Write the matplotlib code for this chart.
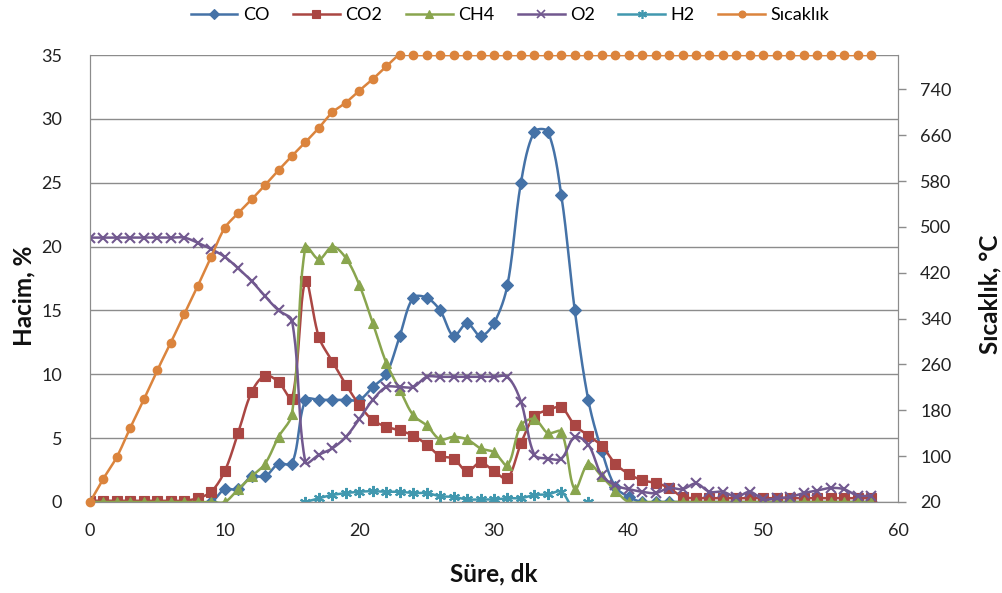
import numpy as np
import matplotlib
matplotlib.use("Agg")
import matplotlib.pyplot as plt
from matplotlib.lines import Line2D

plt.rcParams['font.family'] = ['Lato', 'DejaVu Sans']

# ---------------- data ----------------
time_min = list(range(0, 59))

co = [0]*10 + [1, 1, 2, 2, 3, 3, 8, 8, 8, 8, 8, 9, 10, 13, 16, 16, 15, 13, 14, 13,
               14, 17, 25, 29, 29, 24, 15, 8, 4, 1.2, 0.4] + [0]*18

co2 = [0.1]*8 + [0.3, 0.8, 2.4, 5.4, 8.6, 9.9, 9.4, 8.1, 17.3, 12.9, 11.0, 9.2, 7.6,
                 6.4, 5.9, 5.6, 5.2, 4.5, 3.6, 3.4, 2.4, 3.1, 2.4, 1.85, 4.6, 6.7,
                 7.2, 7.4, 6.0, 5.2, 4.4, 3.0, 2.2, 1.7, 1.5, 1.1, 0.4] + [0.3]*14

ch4 = [0]*11 + [1, 2, 3, 5.1, 6.9, 20, 19, 20, 19.1, 17, 14, 10.9, 8.8, 6.8, 6.0,
                4.9, 5.1, 4.9, 4.2, 3.9, 2.9, 6.0, 6.5, 5.4, 5.5, 1.0, 3.0, 2.0,
                0.9] + [0]*19

o2 = [20.7]*8 + [20.3, 19.8, 19.2, 18.3, 17.3, 16.1, 15.0, 14.2, 3.1, 3.7, 4.2, 5.1,
                 6.5, 8.0, 9.0, 9.0, 9.0] + [9.8]*7 + \
     [7.85, 3.7, 3.4, 3.4, 5.1, 4.5, 2.1, 1.3, 1.0, 0.8, 0.7, 1.1, 1.0, 1.45, 0.8,
      0.8, 0.4, 0.8, 0.2, 0.3, 0.4, 0.7, 0.9, 1.1, 1.0, 0.5, 0.5]

h2 = [np.nan]*16 + [0, 0.3, 0.55, 0.7, 0.8, 0.85, 0.8, 0.8, 0.7, 0.7, 0.45, 0.4,
                    0.2, 0.2, 0.2, 0.3, 0.3, 0.55, 0.6, 0.8, -0.6, 0.0] + [np.nan]*21

sicaklik = [20, 61, 99, 150, 199, 250, 298, 348, 397, 448, 498, 524, 548, 573, 599,
            624, 648, 673, 700, 717, 738, 758, 780, 800] + [800]*35

series_names = ["CO", "CO2", "CH4", "O2", "H2", "Sıcaklık"]
colors = ["#4572A7", "#AA4643", "#89A54E", "#71588F", "#4198AF", "#DB843D"]

left_ticks = [0, 5, 10, 15, 20, 25, 30, 35]
right_ticks = [20, 100, 180, 260, 340, 420, 500, 580, 660, 740]
x_ticks = [0, 10, 20, 30, 40, 50, 60]


# ------------- smoothing (Excel-like bezier, chord-scaled tangents) -------------
def smooth(x, y, sx, sy, n=24):
    x = np.asarray(x, float)
    y = np.asarray(y, float)
    ok = ~np.isnan(y)
    outx, outy = [], []
    idx = np.where(ok)[0]
    if len(idx) == 0:
        return np.array([]), np.array([])
    runs = np.split(idx, np.where(np.diff(idx) != 1)[0] + 1)
    tt = np.linspace(0, 1, n)
    for r in runs:
        P = np.column_stack([x[r] * sx, y[r] * sy])
        m = len(P)
        if m == 1:
            outx += [x[r][0], np.nan]; outy += [y[r][0], np.nan]
            continue
        cin = P.copy()
        cout = P.copy()
        for i in range(m):
            pp = P[i - 1] if i > 0 else P[i]
            pn = P[i + 1] if i + 1 < m else P[i]
            d = pn - pp
            lp = np.hypot(*(P[i] - pp))
            ln = np.hypot(*(pn - P[i]))
            tot = lp + ln
            if tot == 0:
                continue
            cout[i] = P[i] + d * (1 / 3.0) * ln / tot
            cin[i] = P[i] - d * (1 / 3.0) * lp / tot
        for i in range(m - 1):
            p1, b1, b2, p2 = P[i], cout[i], cin[i + 1], P[i + 1]
            seg = ((1 - tt)[:, None] ** 3 * p1 + 3 * ((1 - tt) ** 2 * tt)[:, None] * b1
                   + 3 * ((1 - tt) * tt ** 2)[:, None] * b2 + (tt ** 3)[:, None] * p2)
            if i > 0:
                seg = seg[1:]
            outx += list(seg[:, 0] / sx)
            outy += list(seg[:, 1] / sy)
        outx.append(np.nan); outy.append(np.nan)
    return np.array(outx), np.array(outy)


# ---------------- figure ----------------
W, H = 1003, 593
fig = plt.figure(figsize=(W / 100, H / 100), dpi=100)
ax = fig.add_axes([90 / W, 1 - 502 / H, (898 - 90) / W, (502 - 55) / H])
ax2 = ax.twinx()

ax.set_xlim(0, 60)
ax.set_ylim(0, 35)
ax2.set_ylim(20, 800)

sx = (898 - 90) / 60.0
sy_left = (502 - 55) / 35.0
sy_right = (502 - 55) / 780.0

grid_c = "#8C8C8C"
ax.set_yticks(left_ticks)
ax.set_xticks(x_ticks)
ax.yaxis.grid(True, color=grid_c, linewidth=1.0)
ax.set_axisbelow(True)
ax.spines["top"].set_visible(False)
ax2.spines["top"].set_visible(False)
for s in ["left", "bottom", "right"]:
    ax.spines[s].set_color(grid_c)
    ax2.spines[s].set_color(grid_c)
ax.tick_params(axis="both", length=0, labelsize=13, colors="#222222")
ax.tick_params(axis="y", pad=20)
ax.tick_params(axis="x", pad=15)
ax2.set_yticks(right_ticks)
ax2.tick_params(axis="y", length=6, width=1, color=grid_c, labelsize=13,
                labelcolor="#222222", pad=10)

markers = ["D", "s", "^", "x", (6, 2, 0), "o"]
msizes = [6, 7, 7.5, 7, 8, 6]
data_left = [co, co2, ch4, o2, h2]
handles = []
for i, (name, vals) in enumerate(zip(series_names[:5], data_left)):
    c = colors[i]
    lx, ly = smooth(time_min, vals, sx, sy_left)
    ax.plot(lx, ly, color=c, linewidth=1.8, zorder=2 + i)
    ax.plot(time_min, vals, linestyle="none", marker=markers[i], markersize=msizes[i],
            color=c, markeredgecolor=c, markeredgewidth=1.5 if i in (3, 4) else 0.8,
            zorder=2 + i)
    handles.append(Line2D([], [], color=c, linewidth=1.8, marker=markers[i],
                          markersize=msizes[i] * 0.8, markeredgecolor=c,
                          markeredgewidth=1.2 if i in (3, 4) else 0.8))

c = colors[5]
lx, ly = smooth(time_min, sicaklik, sx, sy_right)
ax2.plot(lx, ly, color=c, linewidth=1.8, zorder=3)
ax2.plot(time_min, sicaklik, linestyle="none", marker="o", markersize=msizes[5],
         color=c, markeredgecolor=c, zorder=3, clip_on=False)
handles.append(Line2D([], [], color=c, linewidth=1.8, marker="o",
                      markersize=msizes[5] * 0.8, markeredgecolor=c))

title_kw = dict(fontsize=17.5, fontweight="bold", color="#111111")
fig.text(24 / W, 1 - 296 / H, "Hacim, %", rotation=90, ha="center", va="center", **title_kw)
fig.text(990 / W, 1 - 294 / H, "Sıcaklık, °C", rotation=90, ha="center", va="center", **title_kw)
fig.text(494 / W, 1 - 574 / H, "Süre, dk", ha="center", va="center", **title_kw)

fig.legend(handles, series_names, loc="center", bbox_to_anchor=(510 / W, 1 - 15 / H),
           ncol=6, frameon=False, fontsize=13, handlelength=2.6, handletextpad=0.3,
           columnspacing=1.3)

fig.savefig("out.png", dpi=100)
